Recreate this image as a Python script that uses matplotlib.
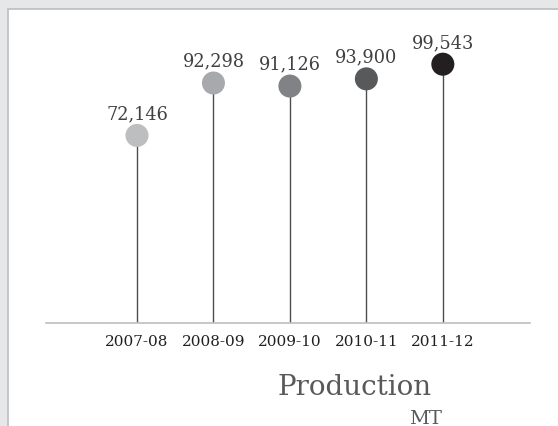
import matplotlib
matplotlib.use("Agg")
import matplotlib.pyplot as plt
from matplotlib.patches import Rectangle

categories = ["2007-08", "2008-09", "2009-10", "2010-11", "2011-12"]
values = [72146, 92298, 91126, 93900, 99543]
labels = ["72,146", "92,298", "91,126", "93,900", "99,543"]
colors = ["#bcbec0", "#a7a9ac", "#808285", "#58595b", "#231f20"]

W, H = 558, 427
fig = plt.figure(figsize=(W / 100, H / 100), dpi=100)
fig.patch.set_facecolor("#e6e7e8")

# white panel
fig.patches.append(Rectangle((8 / W, -0.1), 1.2, (H - 10) / H + 0.1,
                             transform=fig.transFigure, facecolor="white",
                             edgecolor="#bcbec0", linewidth=1.2, zorder=-1))

font = "DejaVu Serif"
left, right = 46, 530
base_y = 324
scale = 0.0026  # px per unit
ymax = 110000
ax = fig.add_axes([left / W, (H - base_y) / H, (right - left) / W, ymax * scale / H])
ax.set_zorder(1)
ax.set_facecolor("none")
x = list(range(len(categories)))
ax.set_xlim(-1.19, 5.14)
ax.set_ylim(0, ymax)

ax.vlines(x, 0, values, colors="#4d4d4f", linewidth=1.0, zorder=2)
ax.scatter(x, values, s=23 ** 2 * 0.52, c=colors, zorder=3, linewidths=0, clip_on=False)
for xi, v, lab in zip(x, values, labels):
    ax.annotate(lab, (xi, v), xytext=(0, 16), textcoords="offset points",
                ha="center", va="center", fontsize=12.8, family=font, color="#414042")

for s in ["top", "right", "left"]:
    ax.spines[s].set_visible(False)
ax.spines["bottom"].set_color("#bcbec0")
ax.spines["bottom"].set_linewidth(1.2)
ax.set_yticks([])
ax.set_xticks(x)
ax.set_xticklabels(categories, family=font, fontsize=11, color="#231f20")
ax.tick_params(axis="x", length=0, pad=8)

fig.text(355 / W, 1 - 388 / H, "Production", ha="center", va="center",
         fontsize=20, family=font, color="#58595b", zorder=2)
fig.text(426 / W, 1 - 419 / H, "MT", ha="center", va="center",
         fontsize=14, family=font, color="#58595b", zorder=2)

fig.savefig("out.png", dpi=100, facecolor=fig.get_facecolor())
